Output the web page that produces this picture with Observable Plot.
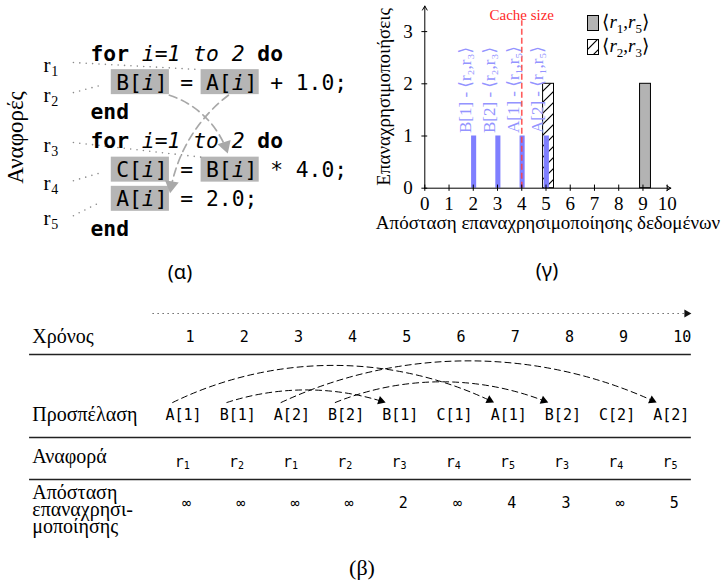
<!DOCTYPE html>
<html>
<head>
<meta charset="utf-8">
<script src="https://cdn.jsdelivr.net/npm/d3@7"></script>
<script src="https://cdn.jsdelivr.net/npm/@observablehq/plot@0.6"></script>
<style>
  html,body{margin:0;padding:0;background:#fff;}
  #fig{position:relative;width:724px;height:586px;overflow:hidden;background:#fff;}
  .panel{position:absolute;}
  .cap{position:absolute;transform:translate(-50%,-50%);white-space:nowrap;color:#000;line-height:1;}
  .leg{position:absolute;display:flex;align-items:center;height:16px;font:19px "Liberation Serif","DejaVu Serif",serif;}
  .leg sub{font-size:13px;}
</style>
</head>
<body>
<svg width="0" height="0" style="position:absolute">
  <defs>
    <pattern id="hatch" patternUnits="userSpaceOnUse" width="11" height="11">
      <path d="M0,11L11,0M-3,3L3,-3M8,14L14,8" stroke="#000" stroke-width="1.2"/>
    </pattern>
  </defs>
</svg>
<div id="fig"></div>
<script>
// ================= DATA =================
// (α) code listing and its references
const codeLines = [
  "for i=1 to 2 do",
  "  B[i] = A[i] + 1.0;",
  "end",
  "for i=1 to 2 do",
  "  C[i] = B[i] * 4.0;",
  "  A[i] = 2.0;",
  "end"
];
const refNames = ["r1", "r2", "r3", "r4", "r5"];
const refLine  = [1, 1, 4, 4, 5];
const refOcc   = [1, 0, 1, 0, 0];
const refKind  = ["read", "write", "read", "write", "write"];
const reuseFrom = ["r2", "r1"];
const reuseTo   = ["r3", "r5"];
const refAxisLabel = "Αναφορές";

// (β) access trace
const times = [1, 2, 3, 4, 5, 6, 7, 8, 9, 10];
const accesses = ["A[1]", "B[1]", "A[2]", "B[2]", "B[1]", "C[1]", "A[1]", "B[2]", "C[2]", "A[2]"];
const accessRefs = ["r1", "r2", "r1", "r2", "r3", "r4", "r5", "r3", "r4", "r5"];
const reuseDistances = ["∞", "∞", "∞", "∞", "2", "∞", "4", "3", "∞", "5"];
const rowLabels = ["Χρόνος", "Προσπέλαση", "Αναφορά", "Απόσταση\nεπαναχρησι-\nμοποίησης"];

// (γ) reuse-distance histogram
const distTicks = [0, 1, 2, 3, 4, 5, 6, 7, 8, 9, 10];
const countTicks = [0, 1, 2, 3];
const addrDist  = [2, 3, 4, 5];
const addrCount = [1, 1, 1, 1];
const addrName  = ["B[1]", "B[2]", "A[1]", "A[2]"];
const addrPair  = [["r2", "r3"], ["r2", "r3"], ["r1", "r5"], ["r1", "r5"]];
const pairSeries = [["r1", "r5"], ["r2", "r3"]];
const pairDist  = [9, 5];
const pairCount = [2, 2];
const cacheSize = 4;
const cacheLabel = "Cache size";
const axisLabelX = "Απόσταση επαναχρησιμοποίησης δεδομένων";
const axisLabelY = "Επαναχρησιμοποιήσεις";
const captions = ["(α)", "(β)", "(γ)"];

// ================= HELPERS =================
const SERIF = '"Liberation Serif","DejaVu Serif",serif';
const MONO = '"DejaVu Sans Mono",monospace';
const SANS = '"Noto Sans","DejaVu Sans",sans-serif';
const SUBS = "₀₁₂₃₄₅₆₇₈₉";
const sub = s => s.replace(/\d/g, c => SUBS[+c]);
const fmtPair = p => `⟨${sub(p[0])},${sub(p[1])}⟩`;
const fig = document.getElementById("fig");
function place(node, left, top) {
  node.classList.add("panel");
  node.style.left = left + "px";
  node.style.top = top + "px";
  fig.appendChild(node);
}
// filled triangular head whose tip sits at the arrow's end, aligned with the arc tangent
function headAt(sx, sy, a, bendDeg, len) {
  const p1 = [sx.apply(a.x1), sy.apply(a.y1)], p2 = [sx.apply(a.x2), sy.apply(a.y2)];
  const ang = Math.atan2(p2[1] - p1[1], p2[0] - p1[0]) + bendDeg * Math.PI / 180;
  const r = len / 2.333, back = 1.555 * r;
  return {x: sx.invert(p2[0] - back * Math.cos(ang)), y: sy.invert(p2[1] - back * Math.sin(ang)),
          rotate: ang * 180 / Math.PI + 90};
}

// ================= (α) CODE PANEL =================
{
  const CW = 12.83, LH = 29.17;
  const xs = {domain: [0, 20], range: [90, 90 + 20 * CW]};
  const ys = {domain: [0, 6], range: [53.3, 53.3 + 6 * LH]};
  const sx = Plot.scale({x: xs}), sy = Plot.scale({y: ys});

  const chars = [];
  codeLines.forEach((s, line) => {
    const loop = s.startsWith("for");
    const kw = loop || s.startsWith("end");
    [...s].forEach((ch, col) => {
      if (ch === " ") return;
      let st = "n";
      if (kw && (col < 3 || (loop && col >= s.length - 2))) st = "b";
      else if (loop && col >= 4 && col < s.length - 3) st = "i";
      else if (ch === "i" && s[col - 1] === "[") st = "i";
      chars.push({line, col, ch, st});
    });
  });
  const arrays = [];
  codeLines.forEach((s, line) => {
    let occ = 0;
    for (const m of s.matchAll(/[A-Z]\[i\]/g)) arrays.push({line, col: m.index, occ: occ++});
  });
  const refBox = refNames.map((r, k) => arrays.find(a => a.line === refLine[k] && a.occ === refOcc[k]));

  // layout of the reference labels
  const labelLine = [0.4, 1.43, 3.14, 4.45, 5.65];
  const labelCol = -3.66;
  const dots = refNames.map((r, k) => {
    const b = refBox[k];
    return refKind[k] === "read"
      ? {x1: -1.33, y1: labelLine[k] - 0.1, x2: b.col - 0.38, y2: b.line - 0.457}
      : {x1: -1.33, y1: labelLine[k] - 0.1, x2: b.col - 1.2, y2: b.line + 0.08};
  });
  const reuseStyle = [
    {bend: 27, sx: 4.15, sy: 0.42, ex: 1.7, ey: -0.58},
    {bend: -22, sx: 1.75, sy: 0.42, ex: 4.2, ey: -0.22}
  ];
  const reuseArrows = reuseFrom.map((f, i) => {
    const a = refBox[refNames.indexOf(f)], b = refBox[refNames.indexOf(reuseTo[i])], s = reuseStyle[i];
    return {x1: a.col + s.sx, y1: a.line + s.sy, x2: b.col + s.ex, y2: b.line + s.ey, bend: s.bend};
  });
  const heads = reuseArrows.map(a => headAt(sx, sy, a, a.bend, 12));

  const plot = Plot.plot({
    width: 370, height: 250,
    x: {...xs, axis: null},
    y: {...ys, axis: null},
    style: {background: "transparent", overflow: "visible"},
    marks: [
      Plot.rect(arrays, {x1: d => d.col - 0.38, x2: d => d.col + 4.15, y1: d => d.line - 0.457, y2: d => d.line + 0.40, fill: "#b5b5b5"}),
      Plot.link(dots, {x1: "x1", y1: "y1", x2: "x2", y2: "y2", stroke: "#8a8a8a", strokeWidth: 1.6, strokeDasharray: "0 6.4", strokeLinecap: "round"}),
      ...["n", "b", "i"].map(st => Plot.text(chars.filter(c => c.st === st), {
        x: d => d.col + 0.5, y: "line", text: "ch", fontFamily: MONO, fontSize: 21.3,
        fontWeight: st === "b" ? "bold" : "normal", fontStyle: st === "i" ? "italic" : "normal", fill: "#000"
      })),
      Plot.text(refNames, {x: labelCol, y: (d, i) => labelLine[i], text: () => "r", textAnchor: "start", fontFamily: SERIF, fontSize: 21}),
      Plot.text(refNames, {x: labelCol + 0.6, y: (d, i) => labelLine[i] + 0.2, text: d => d.slice(1), textAnchor: "start", fontFamily: SERIF, fontSize: 14}),
      Plot.text([refAxisLabel], {x: -5.85, y: 2.87, rotate: -90, fontFamily: SERIF, fontSize: 23}),
      ...reuseArrows.map(a => Plot.arrow([a], {x1: "x1", y1: "y1", x2: "x2", y2: "y2", bend: a.bend, headLength: 0, insetEnd: 9,
        stroke: "#a8a8a8", strokeWidth: 1.7, strokeDasharray: "8 5"})),
      Plot.dot(heads, {x: "x", y: "y", rotate: "rotate", r: 12 / 2.333, symbol: "triangle", fill: "#a8a8a8", stroke: "none"})
    ]
  });
  place(plot, 0, 0);
}

// ================= (γ) HISTOGRAM =================
{
  const blue = addrDist.map((d, i) => ({dist: d, count: addrCount[i], label: `${addrName[i]} - ${fmtPair(addrPair[i])}`}));
  const pairs = pairDist.map((d, i) => ({dist: d, count: pairCount[i]}));
  const plot = Plot.plot({
    width: 354, height: 250,
    marginLeft: 54.3, marginRight: 57.3, marginTop: 5, marginBottom: 62.3,
    x: {domain: [0, 10], ticks: distTicks, tickFormat: d => String(d), tickSize: 0, tickPadding: 8, label: null},
    y: {domain: [0, 3.5], ticks: countTicks, tickFormat: d => String(d), tickSize: 0, tickPadding: 12, label: null},
    style: {fontFamily: SERIF, fontSize: "19px", background: "transparent", overflow: "visible"},
    marks: [
      Plot.rect(pairs.slice(0, 1), {x1: d => d.dist - 0.12, x2: d => d.dist + 0.33, y1: 0, y2: "count", fill: "#b3b3b3", stroke: "#000", strokeWidth: 1}),
      Plot.rect(pairs.slice(1, 2), {x1: d => d.dist - 0.12, x2: d => d.dist + 0.33, y1: 0, y2: "count", fill: "url(#hatch)", stroke: "#000", strokeWidth: 1}),
      Plot.rect(blue, {x1: d => d.dist - 0.07, x2: d => d.dist + 0.14, y1: 0, y2: "count", fill: "#7f7fff"}),
      Plot.ruleX([cacheSize], {x: d => d, y1: 0, y2: 3.21, stroke: "#ff4040", strokeOpacity: 0.85, strokeWidth: 1.6, strokeDasharray: "6 3"}),
      Plot.text([cacheLabel], {x: cacheSize, y: 3.32, fill: "#ff2a2a", fontSize: 15}),
      Plot.text(blue, {x: "dist", y: "count", text: "label", rotate: -90, textAnchor: "start", dx: -8, dy: -3, fill: "#9494ff", fontSize: 17}),
      Plot.ruleX(distTicks, {x: d => d, y1: -0.06, y2: 0.06, stroke: "#000", strokeWidth: 1}),
      Plot.ruleY(countTicks, {y: d => d, x1: -0.12, x2: 0.12, stroke: "#000", strokeWidth: 1}),
      Plot.arrow([0], {x1: 0, y1: 0, x2: 10.15, y2: 0, headLength: 7, stroke: "#000", strokeWidth: 1}),
      Plot.arrow([0], {x1: 0, y1: 0, x2: 0, y2: 3.49, headLength: 7, stroke: "#000", strokeWidth: 1}),
      Plot.text([axisLabelY], {frameAnchor: "left", textAnchor: "middle", rotate: -90, dx: -41, fontSize: 19}),
      Plot.text([axisLabelX], {frameAnchor: "bottom", textAnchor: "middle", dx: 2, dy: 41, fontSize: 19})
    ]
  });
  place(plot, 370, 0);

  pairSeries.forEach((p, i) => {
    const d = document.createElement("div");
    d.className = "leg";
    d.style.left = "587px";
    d.style.top = (15 + 24 * i) + "px";
    d.innerHTML = `<svg width="12" height="16" style="display:block"><rect x="0.5" y="0.5" width="11" height="15" fill="${i === 0 ? "#b3b3b3" : "url(#hatch)"}" stroke="#000"/></svg>` +
      `<span style="margin-left:3px">⟨<i>r</i><sub>${p[0].slice(1)}</sub>,<i>r</i><sub>${p[1].slice(1)}</sub>⟩</span>`;
    fig.appendChild(d);
  });
}

// ================= (β) TRACE TABLE =================
{
  const xs = {domain: [1, 10], range: [183, 670.8]};
  const ys = {domain: [0, 270], range: [0, 270]};
  const sx = Plot.scale({x: xs}), sy = Plot.scale({y: ys});
  const rowY = {axis: 23, time: 47, arc: 112, access: 125, ref: 172, dist: 213};
  const rowLabelY = [47, 125, 167, 220];
  const rules = [64, 147, 189];
  const first = times[0], last = times[times.length - 1];

  const arcs = [];
  accesses.forEach((a, j) => {
    if (j === 0) return;
    const i = accesses.lastIndexOf(a, j - 1);
    if (i >= 0) arcs.push({from: times[i], to: times[j]});
  });
  const arcBend = {"1-7": 26, "2-5": 18, "3-10": 25, "4-8": 22};
  const arcData = arcs.map(a => ({x1: a.from - 0.2, y1: rowY.arc, x2: a.to - 0.27, y2: rowY.arc, bend: arcBend[a.from + "-" + a.to] ?? 22}));
  const arcHeads = arcData.map(a => headAt(sx, sy, a, a.bend, 7.5));
  const timeAxis = {x1: first - 0.57, y1: rowY.axis, x2: last + 0.37, y2: rowY.axis};
  const timeHead = headAt(sx, sy, timeAxis, 0, 7);

  const plot = Plot.plot({
    width: 724, height: 270,
    x: {...xs, axis: null},
    y: {...ys, axis: null},
    style: {background: "transparent", overflow: "visible"},
    marks: [
      Plot.link([timeAxis], {x1: "x1", y1: "y1", x2: d => d.x2 - 0.08, y2: "y2", stroke: "#222", strokeWidth: 1.2, strokeDasharray: "1 4"}),
      Plot.dot([timeHead], {x: "x", y: "y", rotate: "rotate", r: 3, symbol: "triangle", fill: "#111", stroke: "none"}),
      Plot.ruleY(rules, {y: d => d, x1: first - 2.84, x2: last + 0.37, stroke: "#222", strokeWidth: 1.5}),
      Plot.text(rowLabels, {x: first - 2.79, y: (d, i) => rowLabelY[i], textAnchor: "start", fontFamily: SERIF, fontSize: 20, lineHeight: 0.87}),
      Plot.text(times, {x: d => d, y: rowY.time, text: d => String(d), textAnchor: "start", dx: 2, fontFamily: MONO, fontSize: 15}),
      Plot.text(accesses, {x: (d, i) => times[i], y: rowY.access, text: d => d, fontFamily: MONO, fontSize: 15}),
      Plot.text(accessRefs, {x: (d, i) => times[i], y: rowY.ref, text: () => "r", dx: -4.3, fontFamily: MONO, fontSize: 15}),
      Plot.text(accessRefs, {x: (d, i) => times[i], y: rowY.ref, text: d => d.slice(1), dx: 3.2, dy: 3.5, fontFamily: MONO, fontSize: 10}),
      Plot.text(reuseDistances, {x: (d, i) => times[i], y: rowY.dist, text: d => d, dx: 3, fontFamily: MONO, fontSize: 15}),
      ...arcData.map(a => Plot.arrow([a], {x1: "x1", y1: "y1", x2: "x2", y2: "y2", bend: a.bend, headLength: 0, insetEnd: 5,
        stroke: "#000", strokeWidth: 1, strokeDasharray: "6 4"})),
      Plot.dot(arcHeads, {x: "x", y: "y", rotate: "rotate", r: 7.5 / 2.333, symbol: "triangle", fill: "#000", stroke: "none"})
    ]
  });
  place(plot, 0, 290);
}

// ================= CAPTIONS =================
[[captions[0], 180, 272, SANS, 20], [captions[2], 547, 270, SANS, 20], [captions[1], 362, 568, SERIF, 22]].forEach(([t, x, y, f, s]) => {
  const d = document.createElement("div");
  d.className = "cap";
  d.textContent = t;
  d.style.left = x + "px";
  d.style.top = y + "px";
  d.style.fontFamily = f;
  d.style.fontSize = s + "px";
  fig.appendChild(d);
});
</script>
</body>
</html>
